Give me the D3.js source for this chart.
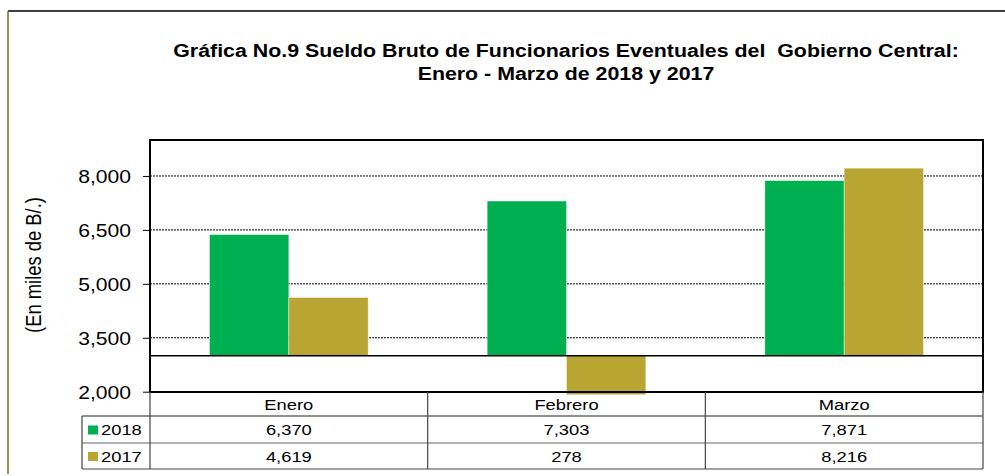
<!DOCTYPE html>
<html><head><meta charset="utf-8">
<script src="https://cdn.jsdelivr.net/npm/d3@7"></script>
<style>html,body{margin:0;padding:0;background:#fff;}svg{display:block;}text{white-space:pre;}</style>
</head><body>
<svg id="c" width="1005" height="476"></svg>
<script>
const categories = ["Enero", "Febrero", "Marzo"];
const seriesNames = ["2018", "2017"];
const values2018 = [6370, 7303, 7871];
const values2017 = [4619, 278, 8216];
const tickValues = [2000, 3500, 5000, 6500, 8000];
const titleLines = ["Gráfica No.9 Sueldo Bruto de Funcionarios Eventuales del  Gobierno Central:", "Enero - Marzo de 2018 y 2017"];
const yLabel = "(En miles de B/.)";
const colors = {"2018": "#00B050", "2017": "#B9A532"};
const seriesValues = {"2018": values2018, "2017": values2017};

const FONT = "'Liberation Sans', Arial, sans-serif";
const SX = 1.2;
const svg = d3.select("#c");

const plot = {l: 150, t: 140, r: 983, b: 392};
const baseVal = 3000;

const x0 = d3.scaleBand().domain(categories).range([plot.l, plot.r]).paddingInner(0).paddingOuter(0);
const x1 = d3.scaleBand().domain(seriesNames).range([0, x0.bandwidth()]).paddingInner(0).paddingOuter(0.75);
const y = d3.scaleLinear().domain([2000, 9000]).range([391.7, plot.t]);

function txt(x, yy, s, size, weight, anchor, extra) {
  return svg.append("text")
    .attr("xml:space", "preserve")
    .attr("transform", `translate(${x},${yy}) scale(${SX},1)` + (extra || ""))
    .attr("font-family", FONT).attr("font-size", size).attr("font-weight", weight || "normal")
    .attr("text-anchor", anchor || "middle").attr("fill", "#000").text(s);
}

// outer chart border
svg.append("line").attr("x1", 8).attr("x2", 1005).attr("y1", 11).attr("y2", 11).attr("stroke", "#000").attr("stroke-width", 1.5);
svg.append("line").attr("x1", 8).attr("x2", 8).attr("y1", 11).attr("y2", 474).attr("stroke", "#6f6f1e").attr("stroke-width", 1.5);

// title
txt(566, 57, titleLines[0], 17.8, "bold");
txt(566, 80, titleLines[1], 17.8, "bold");

// gridlines
svg.append("g").selectAll("line").data(tickValues.filter(v => v > 2000)).join("line")
  .attr("x1", plot.l).attr("x2", plot.r).attr("y1", d => y(d)).attr("y2", d => y(d))
  .attr("stroke", "#000").attr("stroke-width", 1).attr("stroke-dasharray", "2,1");

// bars
svg.append("clipPath").attr("id", "pc").append("rect")
  .attr("x", plot.l).attr("y", plot.t).attr("width", plot.r - plot.l).attr("height", plot.b - plot.t + 2.5);
const bars = svg.append("g").attr("clip-path", "url(#pc)");
categories.forEach((cat, i) => {
  seriesNames.forEach(s => {
    const v = seriesValues[s][i];
    const y0 = y(baseVal), yv = y(v);
    bars.append("rect")
      .attr("x", x0(cat) + x1(s)).attr("width", x1.bandwidth())
      .attr("y", Math.min(y0, yv)).attr("height", Math.abs(yv - y0))
      .attr("fill", colors[s]).attr("stroke", "rgba(255,255,255,0.5)").attr("stroke-width", 0.8);
  });
});

// baseline at 3000
svg.append("line").attr("x1", plot.l).attr("x2", plot.r).attr("y1", y(baseVal)).attr("y2", y(baseVal))
  .attr("stroke", "#000").attr("stroke-width", 1.5);

// y axis
const yAxis = d3.axisLeft(y).tickValues(tickValues).tickFormat(d3.format(",")).tickSize(7).tickPadding(0);
const ga = svg.append("g").attr("transform", `translate(${plot.l},0)`).call(yAxis);
ga.select(".domain").remove();
ga.selectAll(".tick line").attr("stroke", "#000").attr("stroke-width", 1);
ga.selectAll(".tick text")
  .attr("x", null).attr("dy", null)
  .attr("transform", `translate(-19,6.3) scale(${SX},1)`)
  .attr("font-family", FONT).attr("font-size", 17.6).attr("fill", "#000").attr("text-anchor", "end");

// plot border
svg.append("rect").attr("x", plot.l).attr("y", plot.t).attr("width", plot.r - plot.l).attr("height", plot.b - plot.t)
  .attr("fill", "none").attr("stroke", "#000").attr("stroke-width", 2);

// y label
txt(41, 265, yLabel, 18.4, "normal", "middle", " rotate(-90)");

// data table
const rowY = [392, 416, 443, 469];
const tbl = svg.append("g").attr("stroke", "#444").attr("stroke-width", 1.2);
tbl.append("line").attr("x1", 82).attr("x2", plot.r).attr("y1", rowY[1]).attr("y2", rowY[1]).attr("stroke", "#222");
tbl.append("line").attr("x1", 82).attr("x2", plot.r).attr("y1", rowY[2]).attr("y2", rowY[2]).attr("stroke", "#666");
tbl.append("line").attr("x1", 82).attr("x2", plot.r).attr("y1", rowY[3]).attr("y2", rowY[3]);
tbl.append("line").attr("x1", 82).attr("x2", 82).attr("y1", rowY[1]).attr("y2", rowY[3]);
categories.concat([null]).forEach((cat, i) => {
  const xx = cat ? x0(cat) : plot.r;
  tbl.append("line").attr("x1", xx).attr("x2", xx).attr("y1", rowY[0]).attr("y2", rowY[3]);
});
categories.forEach(cat => {
  const cx = x0(cat) + x0.bandwidth() / 2;
  txt(cx, 410, cat, 15.3);
  seriesNames.forEach((s, j) => {
    txt(cx, j === 0 ? 435 : 461.5, d3.format(",")(seriesValues[s][categories.indexOf(cat)]), 15.3);
  });
});
seriesNames.forEach((s, j) => {
  const cy = j === 0 ? 435 : 461.5;
  svg.append("rect").attr("x", 88).attr("y", cy - 9.5).attr("width", 10).attr("height", 9).attr("fill", colors[s]);
  txt(101, cy, s, 15.3, "normal", "start");
});
</script>
</body></html>
